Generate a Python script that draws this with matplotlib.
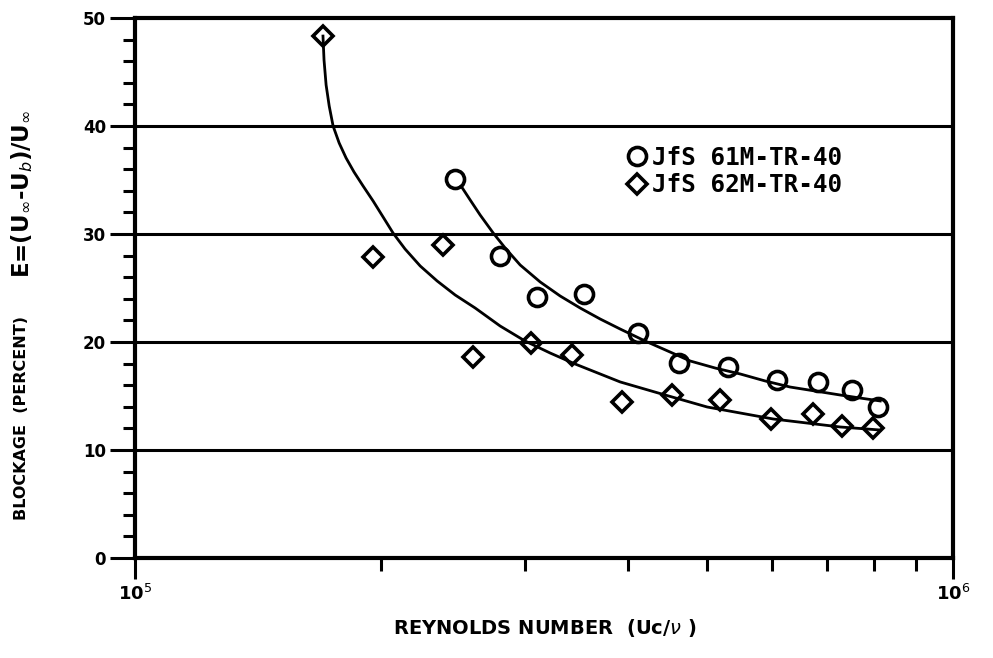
import numpy as np
import matplotlib
matplotlib.use("Agg")
import matplotlib.pyplot as plt
from matplotlib.ticker import FixedLocator, NullFormatter

plt.rcParams['font.family'] = ['DejaVu Sans']

# measured points, JfS 61M-TR-40 (circles)
re_61 = [2.46e5, 2.79e5, 3.10e5, 3.54e5, 4.12e5, 4.62e5, 5.31e5, 6.09e5, 6.84e5, 7.53e5, 8.08e5]
e_61 = [35.1, 28.0, 24.2, 24.4, 20.8, 18.1, 17.7, 16.5, 16.3, 15.6, 14.0]

# measured points, JfS 62M-TR-40 (diamonds)
re_62 = [1.697e5, 1.954e5, 2.38e5, 2.59e5, 3.05e5, 3.42e5, 3.94e5, 4.53e5, 5.19e5, 5.99e5, 6.74e5, 7.32e5, 7.98e5]
e_62 = [48.3, 27.9, 29.0, 18.6, 19.9, 18.8, 14.4, 15.1, 14.6, 12.9, 13.3, 12.2, 12.0]

# hand-drawn fair curves
curve_61_x = [2.503e5, 2.568e5, 2.641e5, 2.740e5, 2.834e5, 2.956e5, 3.127e5, 3.308e5, 3.499e5, 3.702e5,
              3.917e5, 4.202e5, 4.508e5, 4.770e5, 5.117e5, 5.490e5, 5.891e5, 6.319e5, 6.781e5,
              7.277e5, 7.697e5, 8.142e5]
curve_61_y = [34.44, 33.15, 31.76, 30.09, 28.70, 27.13, 25.56, 24.26, 23.15, 22.13,
              21.20, 20.09, 19.07, 18.24, 17.59, 17.04, 16.39, 15.83, 15.46,
              15.09, 14.81, 14.54]
curve_62_x = [1.697e5, 1.702e5, 1.712e5, 1.727e5, 1.746e5, 1.776e5, 1.811e5, 1.852e5, 1.900e5,
              1.954e5, 2.010e5, 2.067e5, 2.138e5, 2.231e5, 2.340e5, 2.462e5, 2.604e5, 2.794e5,
              2.997e5, 3.216e5, 3.451e5, 3.917e5, 4.446e5, 5.004e5, 6.026e5, 7.277e5, 8.142e5]
curve_62_y = [48.33, 46.11, 43.80, 41.85, 40.00, 38.43, 37.04, 35.74, 34.44,
              33.06, 31.57, 30.09, 28.61, 27.04, 25.65, 24.35, 23.15, 21.48,
              20.09, 18.98, 17.96, 16.30, 15.09, 13.98, 12.87, 12.13, 11.85]

y_major = [0, 10, 20, 30, 40, 50]

fig = plt.figure(figsize=(9.93, 6.58), dpi=100)
ax = fig.add_axes([0.136, 0.152, 0.824, 0.8206])

for g in [10, 20, 30, 40]:
    ax.axhline(g, color='black', lw=2.2, zorder=1)

ax.plot(curve_61_x, curve_61_y, color='black', lw=2.0, zorder=2, solid_joinstyle='round')
ax.plot(curve_62_x, curve_62_y, color='black', lw=2.0, zorder=2, solid_joinstyle='round')

ax.plot(re_61, e_61, linestyle='none', marker='o', ms=13, mfc='none', mec='black', mew=2.6,
        label='JfS 61M-TR-40', zorder=3)
ax.plot(re_62, e_62, linestyle='none', marker='D', ms=10, mfc='none', mec='black', mew=2.6,
        label='JfS 62M-TR-40', zorder=3)

ax.set_xscale('log')
ax.set_xlim(1e5, 1e6)
ax.set_ylim(0, 50)

ax.set_yticks(y_major)
ax.set_yticklabels([str(v) for v in y_major], fontsize=12, fontweight='bold')
ax.yaxis.set_minor_locator(FixedLocator(np.arange(0, 51, 2)))
ax.tick_params(axis='y', which='major', direction='out', length=18, width=2.2, pad=3)
ax.tick_params(axis='y', which='minor', direction='out', length=9, width=2.2)

ax.set_xticks([1e5, 1e6])
ax.set_xticklabels(['10$^5$', '10$^6$'], fontsize=13, fontweight='bold')
ax.xaxis.set_minor_locator(FixedLocator([k * 1e5 for k in range(2, 10)]))
ax.xaxis.set_minor_formatter(NullFormatter())
ax.tick_params(axis='x', which='major', direction='out', length=15, width=2.2, pad=4)
ax.tick_params(axis='x', which='minor', direction='out', length=9, width=2.2)

for s in ax.spines.values():
    s.set_linewidth(3)

fig.text(545 / 993, 1 - 628 / 658, 'REYNOLDS NUMBER  (Uc/$\\nu$ )', fontsize=14, fontweight='bold',
         ha='center', va='center')
fig.text(22 / 993, 1 - 418 / 658, 'BLOCKAGE  (PERCENT)', fontsize=11.5, fontweight='bold',
         rotation=90, ha='center', va='center')
fig.text(22 / 993, 1 - 194 / 658, 'E=(U$_\\infty$-U$_b$)/U$_\\infty$', fontsize=16.5, fontweight='bold',
         rotation=90, ha='center', va='center')

ax.legend(loc='center left', bbox_to_anchor=(0.599, 0.716), frameon=False,
          handletextpad=0.1, handlelength=1.0, borderaxespad=0, borderpad=0, labelspacing=0.15,
          prop={'family': 'DejaVu Sans Mono', 'weight': 'bold', 'size': 17.5})

fig.savefig('out.png', dpi=100)
